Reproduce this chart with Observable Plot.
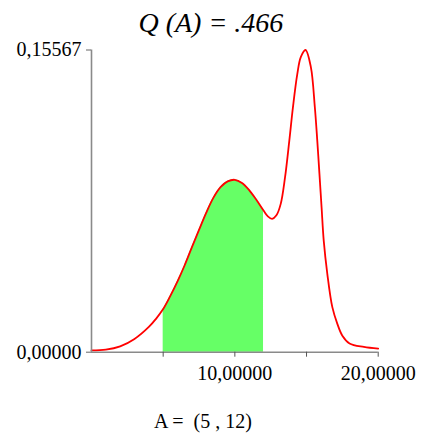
<!DOCTYPE html>
<html>
<head>
<meta charset="utf-8">
<script src="https://cdn.jsdelivr.net/npm/d3@7"></script>
<script src="https://cdn.jsdelivr.net/npm/@observablehq/plot@0.6"></script>
<style>
  html, body { margin: 0; padding: 0; background: #fff; }
  #chart svg { display: block; }
  #chart svg text { font-family: "Liberation Serif", "Times New Roman", "DejaVu Serif", serif !important; }
</style>
</head>
<body>
<div id="chart"></div>
<script>
// Density curve values
const xs = [0, 1, 2, 3, 4, 4.5, 5, 5.5, 6, 6.5, 7, 7.5, 8, 8.5, 9, 9.5, 10, 10.5, 11, 11.5, 12, 12.3, 12.6, 12.9, 13.2, 13.5, 13.8, 14.05, 14.35, 14.6, 14.93, 15.3, 15.58, 15.75, 15.9, 16.05, 16.2, 16.45, 16.8, 17.15, 17.5, 18, 19, 20];
const ys = [0.0009, 0.0013, 0.0030, 0.0068, 0.0130, 0.0172, 0.0222, 0.0290, 0.0365, 0.0448, 0.0540, 0.0630, 0.0718, 0.0795, 0.0850, 0.0880, 0.0888, 0.0872, 0.0835, 0.0785, 0.0730, 0.0700, 0.0687, 0.0705, 0.0764, 0.0900, 0.1090, 0.1260, 0.1430, 0.1520, 0.15567, 0.1470, 0.1262, 0.1090, 0.0920, 0.0747, 0.0575, 0.0404, 0.0232, 0.0146, 0.0085, 0.0045, 0.0027, 0.0018];
const intervalA = [5, 12];
const xTickValues = [5, 10, 15, 20];
const xTickLabels = ["", "10,00000", "", "20,00000"];
const yTickValues = [0, 0.15567];
const yTickLabels = ["0,00000", "0,15567"];
const titleText = "Q (A) = .466";
const captionText = "A =  (5 , 12)";

const data = xs.map((x, i) => ({x, y: ys[i]}));
const shaded = data.filter(d => d.x >= intervalA[0] && d.x <= intervalA[1]);
const serif = "Liberation Serif";

const chart = Plot.plot({
  width: 422,
  height: 441,
  marginLeft: 91,
  marginRight: 44.3,
  marginTop: 49.5,
  marginBottom: 89.3,
  style: {background: "#fff"},
  x: {domain: [0, 20]},
  y: {domain: [0, 0.15567]},
  marks: [
    Plot.areaY(shaded, {x: "x", y: "y", fill: "#66ff66", curve: "catmull-rom"}),
    Plot.lineY(data, {x: "x", y: "y", stroke: "#ff0000", strokeWidth: 1.8, curve: "catmull-rom"}),
    Plot.ruleX([0], {stroke: "#8a8a8a", strokeWidth: 1.6}),
    Plot.ruleY([0], {stroke: "#8a8a8a", strokeWidth: 1.6}),
    Plot.axisX({ticks: xTickValues, tickFormat: (d, i) => xTickLabels[i], tickSize: 5, tickPadding: 9, fontSize: 20, fontFamily: serif, stroke: "#555", label: null, fill: "#000"}),
    Plot.axisY({ticks: yTickValues, tickFormat: (d, i) => yTickLabels[i], tickSize: 5, tickPadding: 5, fontSize: 20, fontFamily: serif, stroke: "#666", label: null, fill: "#000"}),
    Plot.text([titleText], {frameAnchor: "top", lineAnchor: "bottom", dx: -24, dy: -18, fontSize: 28, fontStyle: "italic", fontFamily: serif, fill: "#000", text: d => d}),
    Plot.text([captionText], {frameAnchor: "bottom", lineAnchor: "bottom", dx: -32, dy: 76, fontSize: 20, fontFamily: serif, fill: "#000", text: d => d})
  ]
});
document.getElementById("chart").appendChild(chart);
</script>
</body>
</html>
